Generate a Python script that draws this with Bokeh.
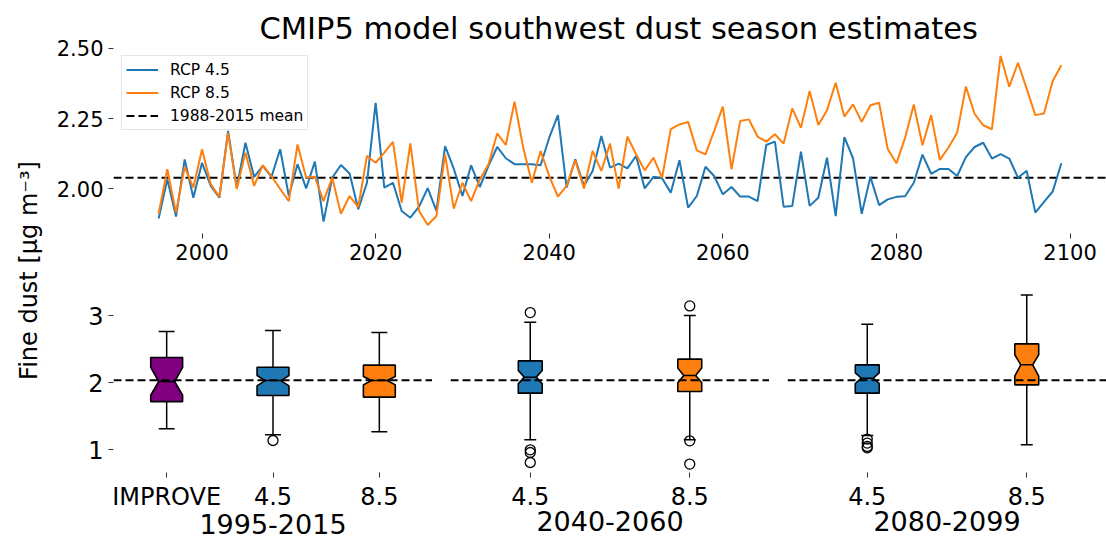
import math

from bokeh.core.properties import value
from bokeh.embed import file_html
from bokeh.layouts import column, row
from bokeh.models import (FixedTicker, Legend, LegendItem, PrintfTickFormatter,
                          Range1d, Span)
from bokeh.plotting import figure
from bokeh.resources import INLINE

FONT = "DejaVu Sans"
BLUE = "#1f77b4"
ORANGE = "#ff7f0e"
PURPLE = "#800080"

# ---- annual southwest dust-season fine dust, multi-model mean ----
years = list(range(1995, 2100))
rcp45 = [
    1.895, 2.034, 1.902, 2.105, 1.969, 2.093, 2.011, 1.969, 2.206, 2.005,
    2.164, 2.043, 2.082, 2.043, 2.141, 1.975, 2.088, 2.002, 2.097, 1.884,
    2.040, 2.085, 2.055, 1.928, 2.022, 2.306, 2.005, 2.022, 1.922, 1.898,
    1.937, 2.003, 1.922, 2.152, 2.072, 1.975, 2.084, 2.007, 2.082, 2.149,
    2.109, 2.088, 2.088, 2.088, 2.084, 2.182, 2.262, 2.005, 2.105, 2.011,
    2.064, 2.188, 2.076, 2.090, 2.073, 2.117, 2.002, 2.043, 2.038, 1.987,
    2.102, 1.934, 1.975, 2.079, 2.046, 1.981, 2.007, 1.973, 1.973, 1.957,
    2.156, 2.168, 1.937, 1.940, 2.132, 1.940, 1.969, 2.111, 1.904, 2.184,
    2.109, 1.912, 2.043, 1.943, 1.963, 1.972, 1.974, 2.022, 2.122, 2.054,
    2.071, 2.071, 2.046, 2.113, 2.149, 2.164, 2.108, 2.124, 2.108, 2.040,
    2.065, 1.916, 1.954, 1.991, 2.091,
]
rcp85 = [
    1.912, 2.070, 1.916, 2.078, 2.005, 2.141, 2.017, 1.972, 2.200, 2.000,
    2.129, 2.011, 2.085, 2.045, 2.000, 1.957, 2.158, 2.040, 2.043, 1.957,
    2.040, 1.912, 1.975, 1.936, 2.117, 2.093, 2.129, 2.167, 1.952, 2.162,
    1.922, 1.872, 1.904, 2.123, 1.930, 2.022, 1.957, 2.034, 2.088, 2.197,
    2.156, 2.310, 2.147, 2.022, 2.135, 2.046, 1.973, 2.011, 2.102, 2.002,
    2.135, 2.064, 2.161, 2.001, 2.186, 2.123, 2.066, 2.111, 2.040, 2.212,
    2.229, 2.238, 2.137, 2.123, 2.206, 2.292, 2.070, 2.241, 2.247, 2.186,
    2.168, 2.194, 2.161, 2.286, 2.217, 2.348, 2.227, 2.279, 2.377, 2.257,
    2.300, 2.238, 2.297, 2.306, 2.141, 2.091, 2.182, 2.300, 2.155, 2.262,
    2.103, 2.147, 2.200, 2.363, 2.267, 2.226, 2.212, 2.472, 2.363, 2.448,
    2.356, 2.262, 2.268, 2.383, 2.439,
]
obs_mean = 2.04  # 1988-2015 observed mean

# ---- box-plot summaries per period ----
periods = ["1995-2015", "2040-2060", "2080-2099"]
box_labels = [["IMPROVE", "4.5", "8.5"], ["4.5", "8.5"], ["4.5", "8.5"]]
box_colors = [[PURPLE, BLUE, ORANGE], [BLUE, ORANGE], [BLUE, ORANGE]]
whislo = [[1.313, 1.224, 1.269], [1.149, 1.149], [1.214, 1.075]]
q1 = [[1.720, 1.810, 1.787], [1.846, 1.870], [1.846, 1.970]]
med = [[2.020, 2.034, 2.034], [2.085, 2.109], [2.070, 2.269]]
q3 = [[2.378, 2.234, 2.264], [2.328, 2.354], [2.269, 2.582]]
whishi = [[2.766, 2.780, 2.751], [2.906, 3.005], [2.876, 3.313]]
notch_lo = [[1.815, 1.955, 1.970], [1.985, 2.000], [1.990, 2.100]]
notch_hi = [[2.230, 2.110, 2.095], [2.185, 2.220], [2.150, 2.420]]
fliers = [
    [[], [1.139], []],
    [[3.049, 1.000, 0.960, 0.810], [3.149, 1.134, 0.787]],
    [[1.160, 1.100, 1.050, 1.030], []],
]


def style_axes(p, tick_size):
    p.outline_line_color = None
    p.xgrid.visible = False
    p.ygrid.visible = False
    for ax in list(p.xaxis) + list(p.yaxis):
        ax.axis_line_color = None
        ax.major_tick_line_color = "#333333"
        ax.major_tick_line_width = 1
        ax.major_tick_in = 0
        ax.major_tick_out = 5
        ax.minor_tick_line_color = None
        ax.major_label_text_font = FONT
        ax.major_label_text_font_size = tick_size
        ax.major_label_text_color = "black"
        ax.major_label_standoff = 5


LABEL_W = 50
TOTAL_W = 1106
TOTAL_H = 539
FRAME_LEFT = 113

# ---- shared y-axis label strip ----
ylab_fig = figure(width=LABEL_W, height=TOTAL_H, x_range=Range1d(0, LABEL_W),
                  y_range=Range1d(0, TOTAL_H),
                  x_axis_location=None, y_axis_location=None, min_border=0,
                  output_backend="svg", toolbar_location=None)
ylab_fig.outline_line_color = None
ylab_fig.grid.visible = False
ylab_fig.text(x=[28], y=[TOTAL_H - 270], text=["Fine dust [μg m⁻³]"],
              angle=math.pi / 2,
              text_font=value(FONT), text_font_size="24px", text_color="black",
              text_align="center", text_baseline="middle")

# ---- time series panel ----
x_lo, x_hi = 1989.8, 2104.2
top = figure(width=TOTAL_W - LABEL_W, height=47 + 186 + 39,
             x_range=Range1d(x_lo, x_hi), y_range=Range1d(1.842, 2.502),
             min_border_left=FRAME_LEFT - LABEL_W, min_border_right=0,
             min_border_top=47, min_border_bottom=39,
             output_backend="svg", toolbar_location=None)
top.title.text = "CMIP5 model southwest dust season estimates"
top.title.text_font = FONT
top.title.text_font_size = "30.5px"
top.title.text_font_style = "normal"
top.title.text_color = "black"
top.title.align = "left"
top.title.offset = 146
top.title.standoff = 4

r_mean = top.line([x_lo, x_hi], [obs_mean, obs_mean], line_color="black",
                  line_width=2, line_dash="8 4")
r45 = top.line(years, rcp45, line_color=BLUE, line_width=2)
r85 = top.line(years, rcp85, line_color=ORANGE, line_width=2)
top.xaxis.ticker = FixedTicker(ticks=list(range(2000, 2101, 20)))
top.yaxis.ticker = FixedTicker(ticks=[2.0, 2.25, 2.5])
top.yaxis.formatter = PrintfTickFormatter(format="%.2f")
style_axes(top, "21px")

legend = Legend(items=[LegendItem(label="RCP 4.5", renderers=[r45]),
                       LegendItem(label="RCP 8.5", renderers=[r85]),
                       LegendItem(label="1988-2015 mean", renderers=[r_mean])],
                location="top_left", margin=8, padding=4, spacing=4,
                glyph_width=32, glyph_height=19, label_height=19, label_standoff=12,
                label_text_font=FONT, label_text_font_size="15.5px",
                label_text_color="black",
                border_line_color="#cccccc", border_line_width=1,
                background_fill_color="white", background_fill_alpha=0.8)
top.add_layout(legend)

# ---- notched box plots per period ----
FRAME_W = 319
GAP = 18
bottoms = []
for gi, period in enumerate(periods):
    n = len(box_labels[gi])
    pos = list(range(1, n + 1))
    bw = min(0.15 * max(n - 1, 1), 0.5)   # box width
    cw = bw * 0.5                          # notch waist / cap width
    left = FRAME_LEFT - LABEL_W if gi == 0 else GAP
    b = figure(width=left + FRAME_W, height=TOTAL_H - 272,
               x_range=Range1d(0.5, n + 0.5), y_range=Range1d(0.661, 3.439),
               min_border_left=left, min_border_right=0,
               min_border_top=14, min_border_bottom=67,
               output_backend="svg", toolbar_location=None)
    b.add_layout(Span(location=obs_mean, dimension="width", line_color="black",
                      line_width=2, line_dash="8 4"))

    xs, ys = [], []
    for k, c in enumerate(pos):
        l, r = c - bw / 2, c + bw / 2
        wl, wr = c - cw / 2, c + cw / 2
        xs.append([l, r, r, wr, r, r, l, l, wl, l])
        ys.append([q1[gi][k], q1[gi][k], notch_lo[gi][k], med[gi][k], notch_hi[gi][k],
                   q3[gi][k], q3[gi][k], notch_hi[gi][k], med[gi][k], notch_lo[gi][k]])
    b.segment(x0=pos, y0=q3[gi], x1=pos, y1=whishi[gi], line_color="black", line_width=1.5)
    b.segment(x0=pos, y0=q1[gi], x1=pos, y1=whislo[gi], line_color="black", line_width=1.5)
    b.segment(x0=[c - cw / 2 for c in pos], y0=whishi[gi], x1=[c + cw / 2 for c in pos],
              y1=whishi[gi], line_color="black", line_width=1.5)
    b.segment(x0=[c - cw / 2 for c in pos], y0=whislo[gi], x1=[c + cw / 2 for c in pos],
              y1=whislo[gi], line_color="black", line_width=1.5)
    b.patches(xs=xs, ys=ys, fill_color=box_colors[gi], line_color="black", line_width=1.6)
    b.segment(x0=[c - cw / 2 for c in pos], y0=med[gi], x1=[c + cw / 2 for c in pos],
              y1=med[gi], line_color="black", line_width=1.5)

    fx = [c for c, fl in zip(pos, fliers[gi]) for _ in fl]
    fy = [v for fl in fliers[gi] for v in fl]
    if fy:
        b.scatter(fx, fy, marker="circle", size=10, fill_color=None,
                  line_color="black", line_width=1.3)

    b.xaxis.ticker = FixedTicker(ticks=pos)
    b.xaxis.major_label_overrides = {c: lab for c, lab in zip(pos, box_labels[gi])}
    b.xaxis.axis_label = period
    b.xaxis.axis_label_text_font = FONT
    b.xaxis.axis_label_text_font_size = "27px"
    b.xaxis.axis_label_text_font_style = "normal"
    b.xaxis.axis_label_text_color = "black"
    style_axes(b, "24px")
    if gi == 0:
        b.yaxis.ticker = FixedTicker(ticks=[1, 2, 3])
        b.xaxis.axis_label_standoff = 0
    else:
        # shared y scale: no ticks or labels on the later panels
        b.yaxis.ticker = FixedTicker(ticks=[])
        b.yaxis.major_tick_out = 0
        b.yaxis.major_label_standoff = 0
        b.xaxis.major_label_standoff = 9
        b.xaxis.axis_label_standoff = 3
    bottoms.append(b)

layout = row(ylab_fig, column(top, row(*bottoms)))

open("out.html", "w").write(file_html(layout, INLINE))
